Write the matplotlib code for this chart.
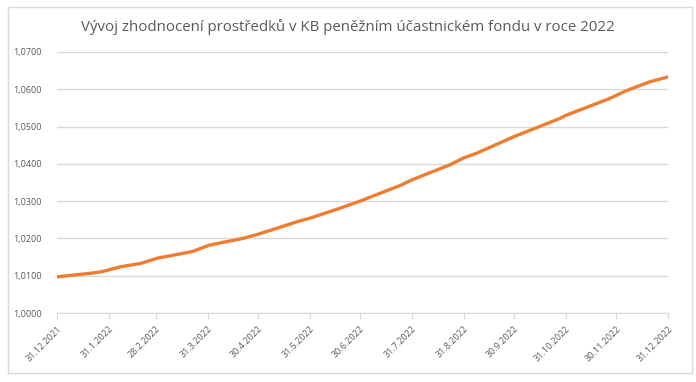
import matplotlib

matplotlib.use("Agg")
import matplotlib.pyplot as plt
import numpy as np
from matplotlib.patches import Rectangle
from matplotlib.ticker import FuncFormatter

# values (date, unit value)
DATES = ["2021-12-31", "2022-01-21", "2022-01-27", "2022-02-07", "2022-02-19",
         "2022-03-01", "2022-03-22", "2022-04-01", "2022-04-21", "2022-04-30",
         "2022-05-25", "2022-05-31", "2022-06-18", "2022-06-30", "2022-07-24",
         "2022-07-31", "2022-08-23", "2022-08-31", "2022-09-08", "2022-09-30",
         "2022-10-27", "2022-10-31", "2022-11-26", "2022-12-06", "2022-12-20",
         "2022-12-31"]
VALUES = [1.0097, 1.0107, 1.0111, 1.0124, 1.0133,
          1.0147, 1.0165, 1.0182, 1.0200, 1.0211,
          1.0247, 1.0254, 1.0281, 1.0300, 1.0342,
          1.0357, 1.0398, 1.0416, 1.0429, 1.0473,
          1.0521, 1.0530, 1.0575, 1.0596, 1.0620,
          1.0633]
TICK_DATES = ["2021-12-31", "2022-01-31", "2022-02-28", "2022-03-31", "2022-04-30",
              "2022-05-31", "2022-06-30", "2022-07-31", "2022-08-31", "2022-09-30",
              "2022-10-31", "2022-11-30", "2022-12-31"]
Y_TICKS = [1.00, 1.01, 1.02, 1.03, 1.04, 1.05, 1.06, 1.07]
TITLE = "Vývoj zhodnocení prostředků v KB peněžním účastnickém fondu v roce 2022"

TXT = "#595959"
GRID = "#d9d9d9"
ORANGE = "#ED7D31"

plt.rcParams["font.family"] = ["Open Sans", "DejaVu Sans"]

x = np.array(DATES, dtype="datetime64[D]")
ticks = np.array(TICK_DATES, dtype="datetime64[D]")

fig = plt.figure(figsize=(6.96, 3.82), dpi=100)
fig.patches.append(Rectangle((8 / 696, 9 / 382), 684 / 696, 366 / 382,
                             transform=fig.transFigure, fill=False,
                             edgecolor=GRID, linewidth=1))
ax = fig.add_axes([57 / 696, 1 - 313 / 382, 611 / 696, (313 - 52) / 382])

ax.plot(x, VALUES, color=ORANGE, lw=2.4, solid_capstyle="round", zorder=3)

ax.set_xlim(ticks[0], ticks[-1])
ax.set_ylim(Y_TICKS[0], Y_TICKS[-1])
ax.set_yticks(Y_TICKS)
ax.yaxis.set_major_formatter(FuncFormatter(lambda v, _: f"{v:.4f}".replace(".", ",")))
ax.set_xticks(ticks)
ax.set_xticklabels([f"{d.day}.{d.month}.{d.year}" for d in ticks.astype(object)],
                   rotation=45, ha="right", rotation_mode="anchor")

ax.grid(axis="y", color=GRID, lw=1)
ax.set_axisbelow(True)
for s in ["top", "right", "left"]:
    ax.spines[s].set_visible(False)
ax.spines["bottom"].set_color(GRID)
ax.tick_params(axis="y", length=0, pad=11, labelsize=6.5, labelcolor=TXT)
ax.tick_params(axis="x", length=4, color=GRID, pad=4, labelsize=6.5, labelcolor=TXT)

fig.text(0.5, 1 - 27 / 382, TITLE, ha="center", va="center", fontsize=10.8, color=TXT)

fig.savefig("out.png", dpi=100, facecolor="white")
